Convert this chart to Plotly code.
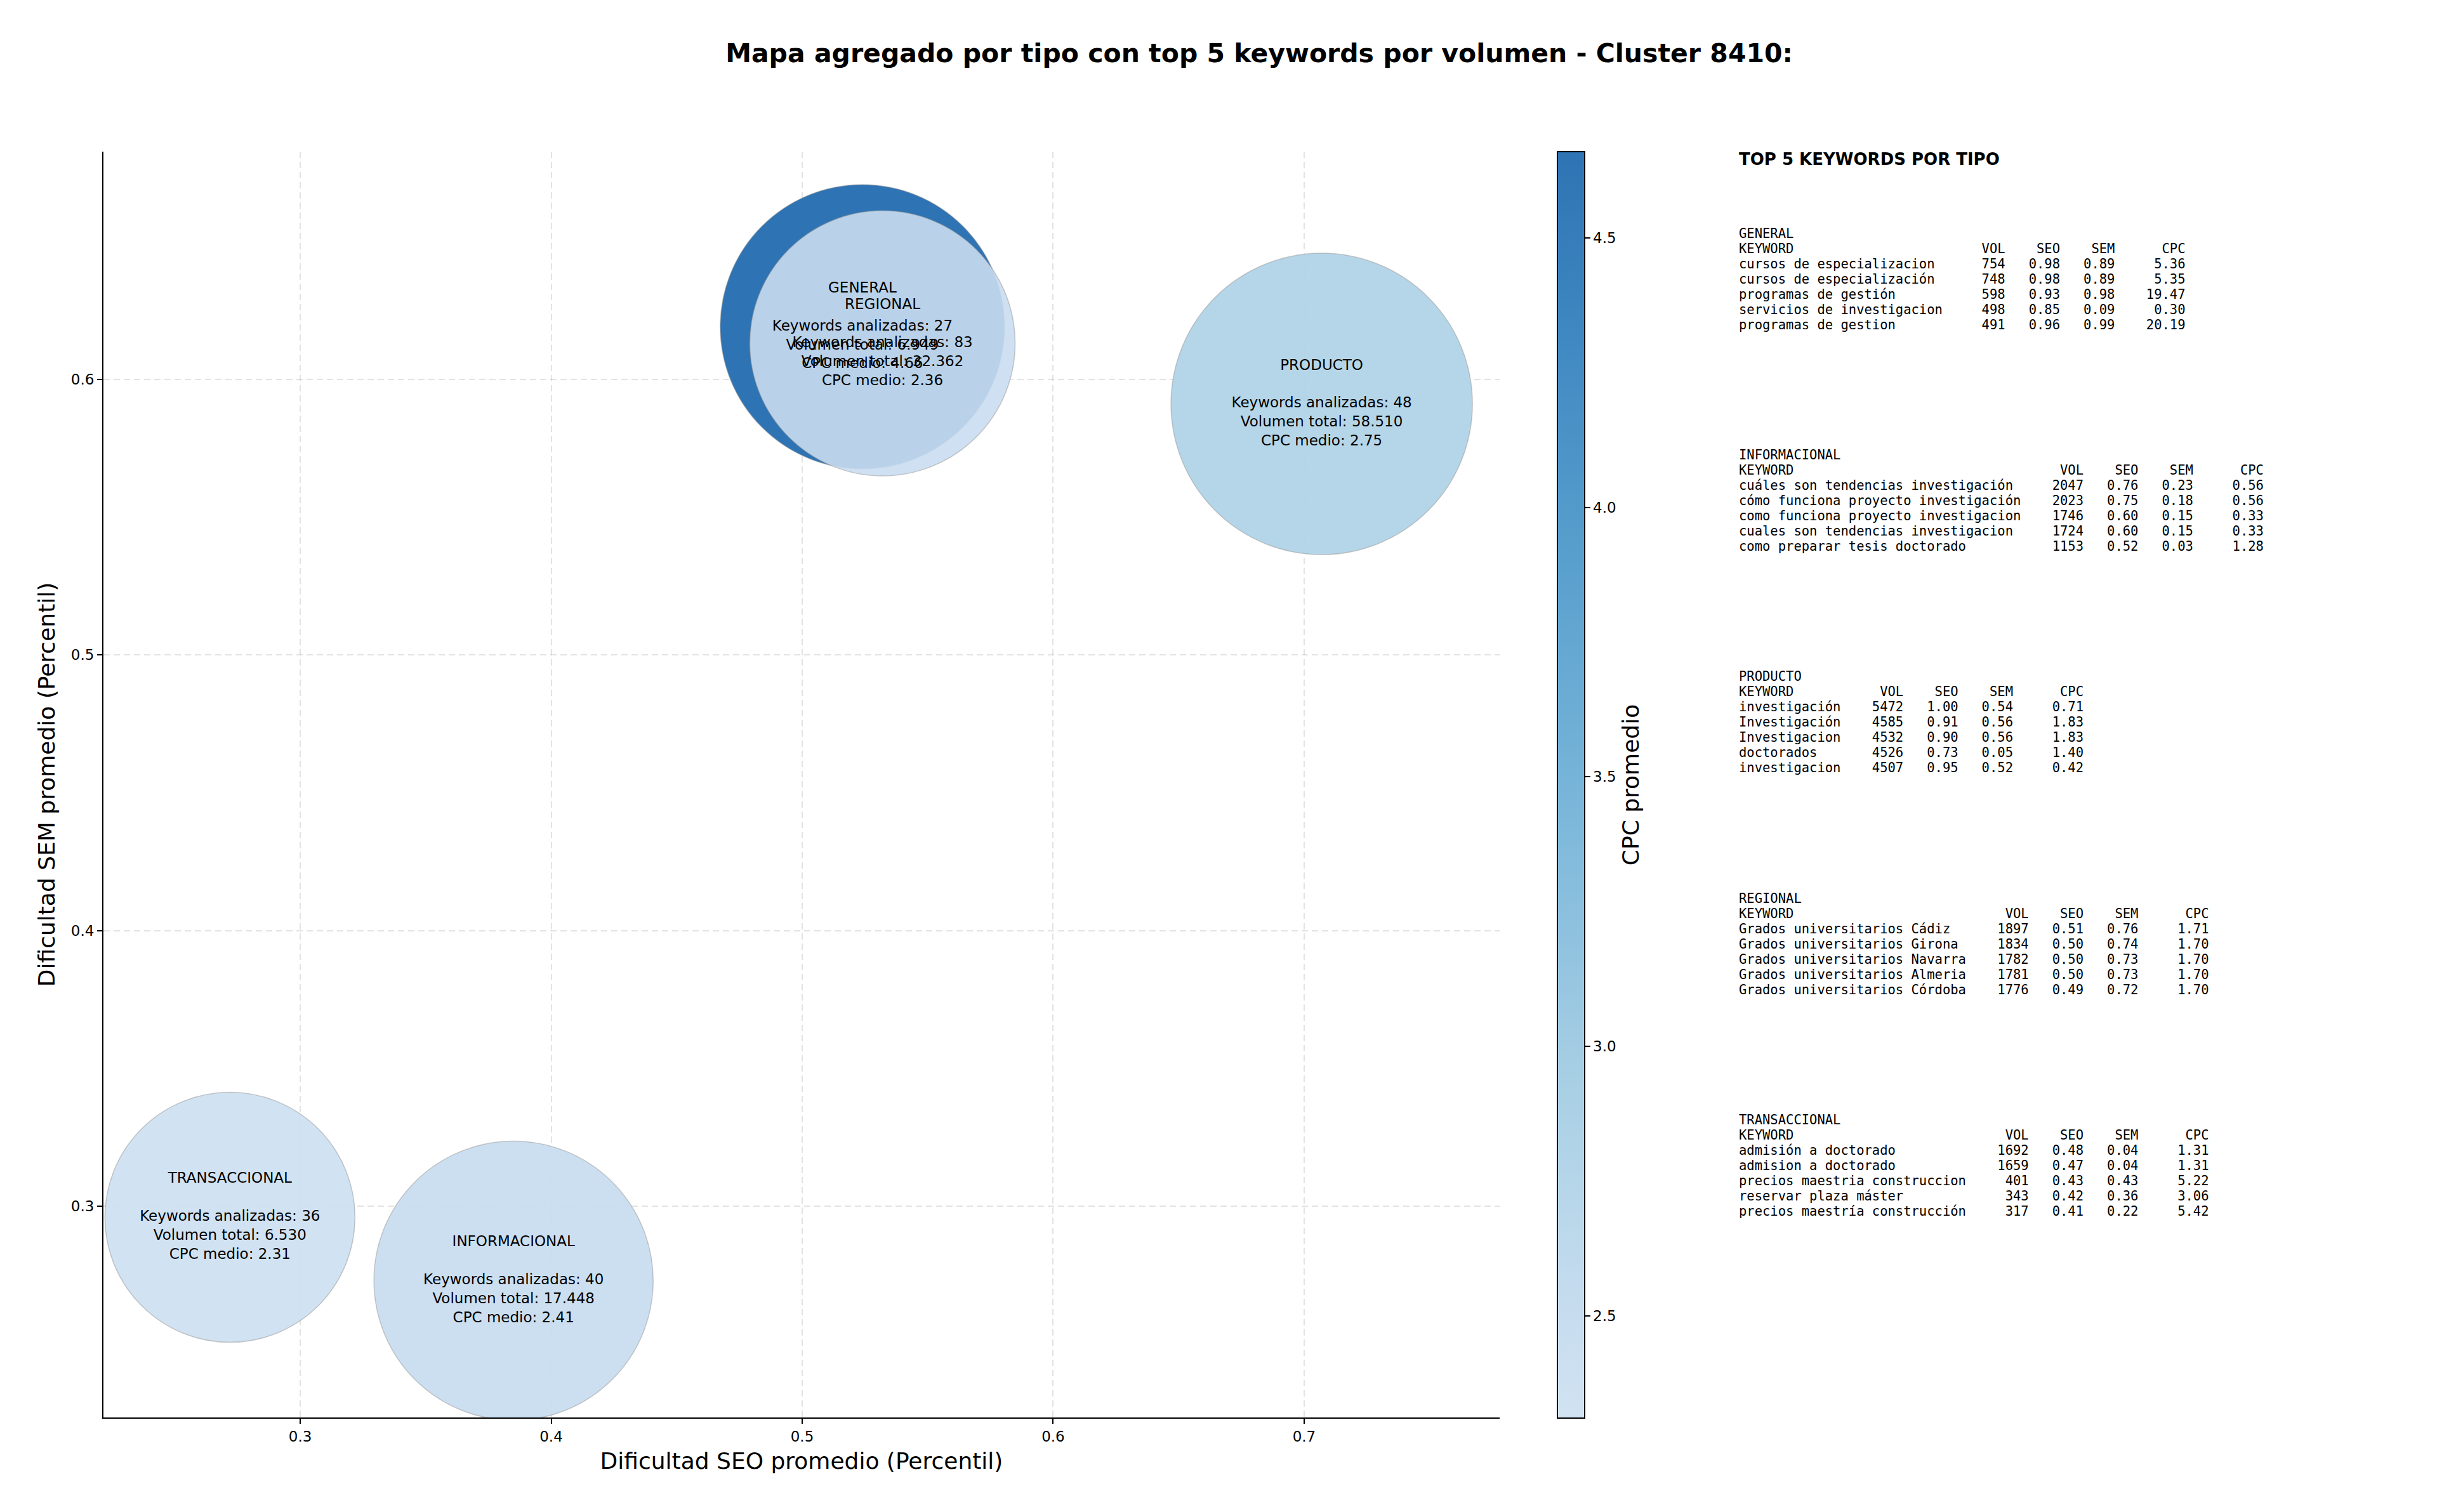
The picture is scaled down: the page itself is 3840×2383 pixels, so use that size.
import plotly.graph_objects as go

# ---------------- DATA ----------------
TIPOS = ["GENERAL", "INFORMACIONAL", "PRODUCTO", "REGIONAL", "TRANSACCIONAL"]
SEO_PROMEDIO = [0.524, 0.385, 0.707, 0.532, 0.272]
SEM_PROMEDIO = [0.619, 0.273, 0.591, 0.613, 0.296]
KEYWORDS_ANALIZADAS = [27, 40, 48, 83, 36]
VOLUMEN_TOTAL = [6949, 17448, 58510, 32362, 6530]
CPC_MEDIO = [4.66, 2.41, 2.75, 2.36, 2.31]

GENERAL_KW = ["cursos de especializacion", "cursos de especialización", "programas de gestión",
              "servicios de investigacion", "programas de gestion"]
GENERAL_VOL = [754, 748, 598, 498, 491]
GENERAL_SEO = [0.98, 0.98, 0.93, 0.85, 0.96]
GENERAL_SEM = [0.89, 0.89, 0.98, 0.09, 0.99]
GENERAL_CPC = [5.36, 5.35, 19.47, 0.30, 20.19]

INFORMACIONAL_KW = ["cuáles son tendencias investigación", "cómo funciona proyecto investigación",
                    "como funciona proyecto investigacion", "cuales son tendencias investigacion",
                    "como preparar tesis doctorado"]
INFORMACIONAL_VOL = [2047, 2023, 1746, 1724, 1153]
INFORMACIONAL_SEO = [0.76, 0.75, 0.60, 0.60, 0.52]
INFORMACIONAL_SEM = [0.23, 0.18, 0.15, 0.15, 0.03]
INFORMACIONAL_CPC = [0.56, 0.56, 0.33, 0.33, 1.28]

PRODUCTO_KW = ["investigación", "Investigación", "Investigacion", "doctorados", "investigacion"]
PRODUCTO_VOL = [5472, 4585, 4532, 4526, 4507]
PRODUCTO_SEO = [1.00, 0.91, 0.90, 0.73, 0.95]
PRODUCTO_SEM = [0.54, 0.56, 0.56, 0.05, 0.52]
PRODUCTO_CPC = [0.71, 1.83, 1.83, 1.40, 0.42]

REGIONAL_KW = ["Grados universitarios Cádiz", "Grados universitarios Girona",
               "Grados universitarios Navarra", "Grados universitarios Almeria",
               "Grados universitarios Córdoba"]
REGIONAL_VOL = [1897, 1834, 1782, 1781, 1776]
REGIONAL_SEO = [0.51, 0.50, 0.50, 0.50, 0.49]
REGIONAL_SEM = [0.76, 0.74, 0.73, 0.73, 0.72]
REGIONAL_CPC = [1.71, 1.70, 1.70, 1.70, 1.70]

TRANSACCIONAL_KW = ["admisión a doctorado", "admision a doctorado", "precios maestria construccion",
                    "reservar plaza máster", "precios maestría construcción"]
TRANSACCIONAL_VOL = [1692, 1659, 401, 343, 317]
TRANSACCIONAL_SEO = [0.48, 0.47, 0.43, 0.42, 0.41]
TRANSACCIONAL_SEM = [0.04, 0.04, 0.43, 0.36, 0.22]
TRANSACCIONAL_CPC = [1.31, 1.31, 5.22, 3.06, 5.42]

TITLE = "Mapa agregado por tipo con top 5 keywords por volumen - Cluster 8410:"
PANEL_TITLE = "TOP 5 KEYWORDS POR TIPO"
X_LABEL = "Dificultad SEO promedio (Percentil)"
Y_LABEL = "Dificultad SEM promedio (Percentil)"
CB_LABEL = "CPC promedio"

# ---------------- STYLE ----------------
PAGE_PAD = 8                      # default body margin of the html page
W, H = 3840 - 2 * PAGE_PAD, 2383 - 2 * PAGE_PAD


def fx(px):
    return (px - PAGE_PAD) / W


def fy(px):
    return 1 - (px - PAGE_PAD) / H


BUBBLE_DIAMETER_PX = [448, 440, 475, 418, 394]
ALPHA = 0.9

BLUES = [(247, 251, 255), (222, 235, 247), (198, 219, 239), (158, 202, 225), (107, 174, 214),
         (66, 146, 198), (33, 113, 181), (8, 81, 156), (8, 48, 107)]


def blues(t):
    p = t * (len(BLUES) - 1)
    i = min(int(p), len(BLUES) - 2)
    f = p - i
    a, b = BLUES[i], BLUES[i + 1]
    return tuple(a[k] + (b[k] - a[k]) * f for k in range(3))


N = 12
colorscale = []
for i in range(N):
    t = 0.22 + 0.58 * i / (N - 1)
    r, g, b = blues(t)
    colorscale.append([i / (N - 1), f"rgba({r:.0f},{g:.0f},{b:.0f},{ALPHA})"])


def fmt_thousands(v):
    return f"{v:,}".replace(",", ".")


bubble_text = [
    f"{t}<br><br>Keywords analizadas: {n}<br>Volumen total: {fmt_thousands(v)}<br>CPC medio: {c:.2f}"
    for t, n, v, c in zip(TIPOS, KEYWORDS_ANALIZADAS, VOLUMEN_TOTAL, CPC_MEDIO)
]

# axes placement (target pixels in the screenshot)
AX_L, AX_R, AX_T, AX_B = 163, 2363, 239, 2234
CB_L, CB_R, CB_T, CB_B = 2454, 2497, 239, 2235

fig = go.Figure()
fig.add_trace(go.Scatter(
    x=SEO_PROMEDIO, y=SEM_PROMEDIO, mode="markers+text",
    text=bubble_text, textposition="middle center",
    textfont=dict(family="DejaVu Sans", size=23, color="black"),
    marker=dict(
        size=BUBBLE_DIAMETER_PX, sizemode="diameter", opacity=1,
        color=CPC_MEDIO, colorscale=colorscale,
        cmin=min(CPC_MEDIO), cmax=max(CPC_MEDIO),
        line=dict(color="rgba(150,150,150,0.5)", width=1.5),
        colorbar=dict(
            thickness=CB_R - CB_L, thicknessmode="pixels",
            len=(CB_B - CB_T) / H, lenmode="fraction",
            x=fx(CB_L), xanchor="left", y=fy((CB_T + CB_B) / 2), yanchor="middle",
            xpad=0, ypad=0,
            outlinewidth=2, outlinecolor="black",
            ticks="outside", ticklen=8, tickwidth=2, tickcolor="black",
            tickvals=[2.5, 3.0, 3.5, 4.0, 4.5], tickformat=".1f",
            tickfont=dict(family="DejaVu Sans", size=23, color="black"),
            title=dict(text=CB_LABEL, side="right",
                       font=dict(family="DejaVu Sans", size=36, color="black")),
        ),
    ),
    hoverinfo="skip", showlegend=False, cliponaxis=True,
))

axis_common = dict(
    showgrid=True, gridcolor="rgba(176,176,176,0.35)", gridwidth=2, griddash="10px,6px",
    zeroline=False, showline=True, linecolor="black", linewidth=2, mirror=False,
    ticks="outside", ticklen=8, tickwidth=2, tickcolor="black",
    tickfont=dict(family="DejaVu Sans", size=23, color="black"),
    dtick=0.1, tick0=0, tickformat=".1f", automargin=False,
)

fig.update_layout(
    width=W, height=H,
    margin=dict(l=0, r=0, t=0, b=0, autoexpand=False),
    paper_bgcolor="white", plot_bgcolor="white",
    font=dict(family="DejaVu Sans", color="black"),
    title=dict(text=TITLE, x=fx(1984), xanchor="center", y=fy(84), yanchor="middle",
               xref="paper", yref="container",
               font=dict(family="DejaVu Sans", size=41, color="black", weight="bold")),
    xaxis=dict(domain=[fx(AX_L), fx(AX_R)], range=[0.2216, 0.7779],
               title=dict(text=X_LABEL, font=dict(family="DejaVu Sans", size=36, color="black"),
                          standoff=14),
               **axis_common),
    yaxis=dict(domain=[fy(AX_B), fy(AX_T)], range=[0.2234, 0.6825],
               title=dict(text=Y_LABEL, font=dict(family="DejaVu Sans", size=36, color="black"),
                          standoff=14),
               **axis_common),
)

# ---------------- RIGHT PANEL: TOP 5 TABLE ----------------
PANEL_X = 2738
annotations = [dict(
    text=f"<b>{PANEL_TITLE}</b>", x=fx(PANEL_X), y=fy(251), xref="paper", yref="paper",
    xanchor="left", yanchor="middle", showarrow=False,
    font=dict(family="DejaVu Sans", size=26, color="black"),
)]

tables = [
    ("GENERAL", GENERAL_KW, GENERAL_VOL, GENERAL_SEO, GENERAL_SEM, GENERAL_CPC),
    ("INFORMACIONAL", INFORMACIONAL_KW, INFORMACIONAL_VOL, INFORMACIONAL_SEO, INFORMACIONAL_SEM, INFORMACIONAL_CPC),
    ("PRODUCTO", PRODUCTO_KW, PRODUCTO_VOL, PRODUCTO_SEO, PRODUCTO_SEM, PRODUCTO_CPC),
    ("REGIONAL", REGIONAL_KW, REGIONAL_VOL, REGIONAL_SEO, REGIONAL_SEM, REGIONAL_CPC),
    ("TRANSACCIONAL", TRANSACCIONAL_KW, TRANSACCIONAL_VOL, TRANSACCIONAL_SEO, TRANSACCIONAL_SEM, TRANSACCIONAL_CPC),
]

BLOCK_Y0, BLOCK_STEP, LINE_STEP = 368, 349.2, 24.0
for bi, (name, kws, vols, seos, sems, cpcs) in enumerate(tables):
    L = max(len(k) for k in kws)
    lines = [name, f"{'KEYWORD':<{L}}{'VOL':>8}{'SEO':>7}{'SEM':>7}{'CPC':>9}"]
    for k, v, s1, s2, c in zip(kws, vols, seos, sems, cpcs):
        lines.append(f"{k:<{L}}{v:>8}{s1:>7.2f}{s2:>7.2f}{c:>9.2f}")
    for li, line in enumerate(lines):
        yy = BLOCK_Y0 + bi * BLOCK_STEP + li * LINE_STEP
        annotations.append(dict(
            text=line.replace(" ", "\u00a0"), x=fx(PANEL_X), y=fy(yy),
            xref="paper", yref="paper", xanchor="left", yanchor="middle", showarrow=False,
            font=dict(family="DejaVu Sans Mono", size=20.5, color="black"),
        ))

fig.update_layout(annotations=annotations)

fig.write_html("out.html")
